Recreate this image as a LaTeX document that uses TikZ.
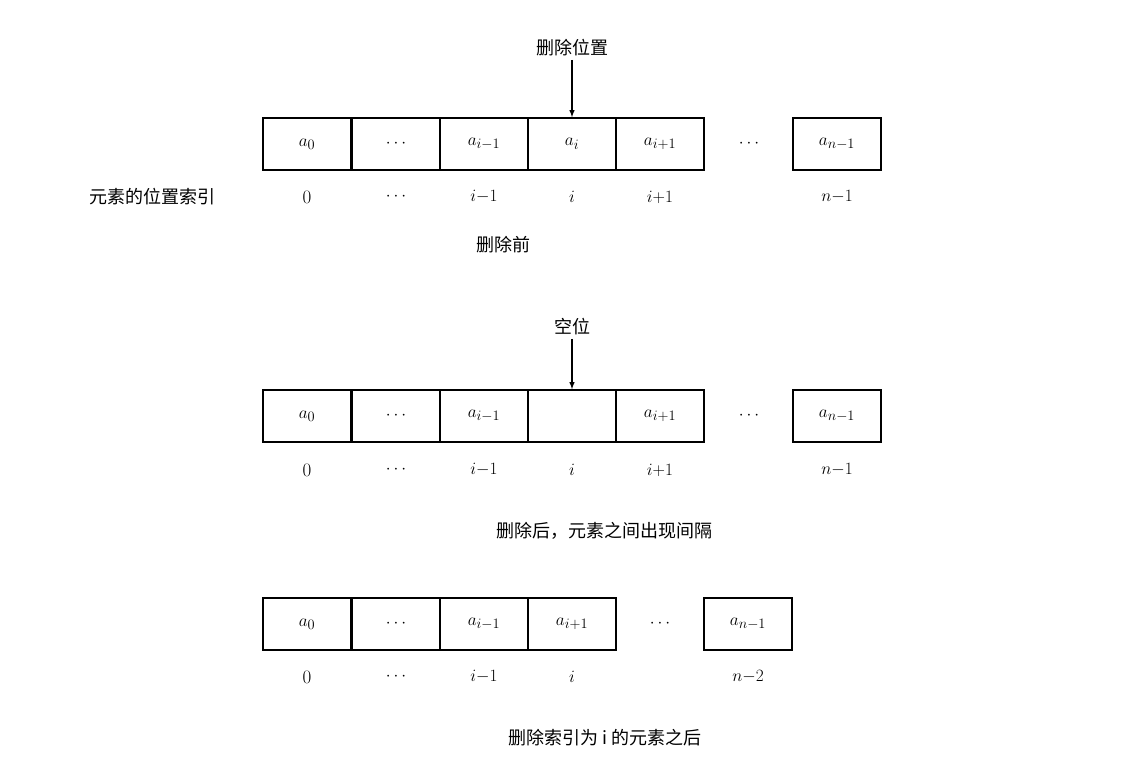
\documentclass[tikz,border=0pt]{standalone}
\usepackage{fontspec}
\newfontfamily\cjk{Noto Sans CJK SC}
\begin{document}
\begin{tikzpicture}[x=1pt,y=-1pt,
  cell/.style={draw,line width=1.6pt,minimum width=88pt,minimum height=52pt,inner sep=0pt,font=\fontsize{19}{22}\selectfont},
  lab/.style={font=\fontsize{19}{22}\selectfont},
  captxt/.style={font=\cjk\fontsize{18}{22}\selectfont},
  arr/.style={-latex,line width=1.4pt}]
\useasboundingbox (0,0) rectangle (1136,769);
% row 1
\foreach \x/\t/\n in {307/$a_0$/a0,396/$\cdots$/a1,484/$a_{i-1}$/a2,572/$a_i$/a3,660/$a_{i+1}$/a4}
  \node[cell] (r1\n) at (\x,144) {\t};
\node[lab] (r1d) at (749,144) {$\cdots$};
\node[cell] (r1a6) at (837,144) {$a_{n-1}$};
\foreach \x/\t/\n in {307/0/0,396/$\cdots$/1,484/$i{-}1$/2,572/$i$/3,660/$i{+}1$/4,837/$n{-}1$/6}
  \node[lab] (l1\n) at (\x,197) {\t};
\node[captxt] (idx) at (152,197) {元素的位置索引};
\node[captxt] (pos) at (572,48) {删除位置};
\draw[arr] (pos) -- (r1a3.north);
\node[captxt] (c1) at (503,245) {删除前};
% row 2
\foreach \x/\t/\n in {307/$a_0$/a0,396/$\cdots$/a1,484/$a_{i-1}$/a2,572/{}/a3,660/$a_{i+1}$/a4}
  \node[cell] (r2\n) at (\x,416) {\t};
\node[lab] (r2d) at (749,416) {$\cdots$};
\node[cell] (r2a6) at (837,416) {$a_{n-1}$};
\foreach \x/\t/\n in {307/0/0,396/$\cdots$/1,484/$i{-}1$/2,572/$i$/3,660/$i{+}1$/4,837/$n{-}1$/6}
  \node[lab] (l2\n) at (\x,470) {\t};
\node[captxt] (emp) at (572,327) {空位};
\draw[arr] (emp) -- (r2a3.north);
\node[captxt] (c2) at (604,531) {删除后，元素之间出现间隔};
% row 3
\foreach \x/\t/\n in {307/$a_0$/a0,396/$\cdots$/a1,484/$a_{i-1}$/a2,572/$a_{i+1}$/a3}
  \node[cell] (r3\n) at (\x,624) {\t};
\node[lab] (r3d) at (660,624) {$\cdots$};
\node[cell] (r3a5) at (748,624) {$a_{n-1}$};
\foreach \x/\t/\n in {307/0/0,396/$\cdots$/1,484/$i{-}1$/2,572/$i$/3,748/$n{-}2$/5}
  \node[lab] (l3\n) at (\x,677) {\t};
\node[captxt] (c3) at (605,738) {删除索引为 \textit{i} 的元素之后};
\end{tikzpicture}
\end{document}
